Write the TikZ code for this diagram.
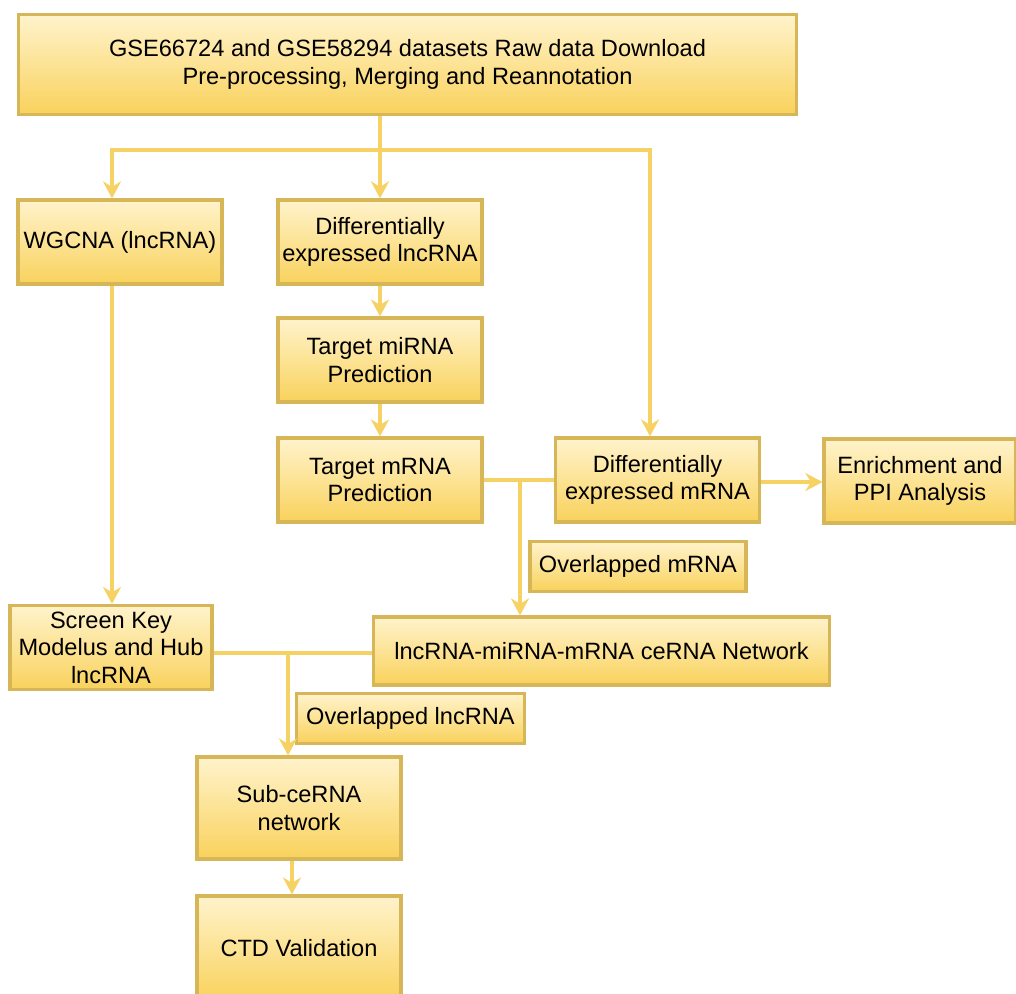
\documentclass[tikz,border=0pt]{standalone}
\usepackage{fontspec}
\setmainfont{Liberation Sans}
\usepackage{tikz}
\usetikzlibrary{arrows.meta,positioning,calc}
\definecolor{boxLine}{RGB}{214,182,86}
\definecolor{boxTop}{RGB}{255,243,204}
\definecolor{boxBottom}{RGB}{249,210,92}
\definecolor{flowLine}{RGB}{246,210,100}

\begin{document}
\begin{tikzpicture}[
        x=0.5pt, y=-0.5pt,
        >={Stealth[length=8.5pt,width=9pt]},
        box/.style={draw=boxLine, line width=1.6pt, top color=boxTop,
          bottom color=boxBottom, align=center, inner sep=2pt,
          font=\fontsize{11.8pt}{13.8pt}\selectfont},
        flow/.style={draw=flowLine, line width=1.8pt}
      ]
        \useasboundingbox (0,0) rectangle (1016,993);
        % Top
        \node[box, minimum width=389pt, minimum height=50pt] (raw) at (407.5,64.5)
          {GSE66724 and GSE58294 datasets Raw data Download\\Pre-processing, Merging and Reannotation};
        % Second row
        \node[box, minimum width=102pt, minimum height=42pt] (wgcna) at (120,242) {WGCNA (lncRNA)};
        \node[box, minimum width=102pt, minimum height=42pt] (delnc) at (380,242) {Differentially\\expressed lncRNA};
        \node[box, minimum width=102pt, minimum height=42pt] (mirna) at (380,360) {Target miRNA\\Prediction};
        \node[box, minimum width=102pt, minimum height=42pt] (mrna) at (380,480) {Target mRNA\\Prediction};
        \node[box, minimum width=102pt, minimum height=42pt] (dem) at (657.5,480) {Differentially\\expressed mRNA};
        \node[box, minimum width=96pt, minimum height=42pt] (enrich) at (920,481) {Enrichment and\\PPI Analysis};
        \node[box, minimum width=108pt, minimum height=25pt] (ovm) at (638,566.5) {Overlapped mRNA};
        \node[box, minimum width=228pt, minimum height=34pt] (cerna) at (601.5,651) {lncRNA-miRNA-mRNA ceRNA Network};
        \node[box, minimum width=101pt, minimum height=42pt] (screen) at (111,647.5) {Screen Key\\Modelus and Hub\\lncRNA};
        \node[box, minimum width=114pt, minimum height=25pt] (ovl) at (410.5,718.5) {Overlapped lncRNA};
        \node[box, minimum width=102pt, minimum height=51pt] (sub) at (299,808) {Sub-ceRNA\\network};
        \node[box, minimum width=102pt, minimum height=52pt] (ctd) at (299,948) {CTD Validation};
        % Junctions
        \coordinate (split) at (380,150);
        \coordinate (joinm) at (520,480);
        \coordinate (joinl) at (288,653);
        % Connectors
        \draw[flow, ->] (raw.south -| split) -- (delnc.north);
        \draw[flow, ->] (split) -| (wgcna.north -| 112,0);
        \draw[flow, ->] (split) -| (dem.north -| 650,0);
        \draw[flow, ->] (delnc) -- (mirna);
        \draw[flow, ->] (mirna) -- (mrna);
        \draw[flow] (mrna.east) -- (dem.west);
        \draw[flow, ->] (joinm) -- (cerna.north -| joinm);
        \draw[flow, ->] (dem.east |- 0,482) -- (enrich.west |- 0,482);
        \draw[flow, ->] (wgcna.south -| 112,0) -- (screen.north -| 112,0);
        \draw[flow] (screen.east |- joinl) -- (cerna.west |- joinl);
        \draw[flow, ->] (joinl) -- (sub.north -| joinl);
        \draw[flow, ->] (sub.south -| 292,0) -- (ctd.north -| 292,0);
      \end{tikzpicture}
\end{document}
